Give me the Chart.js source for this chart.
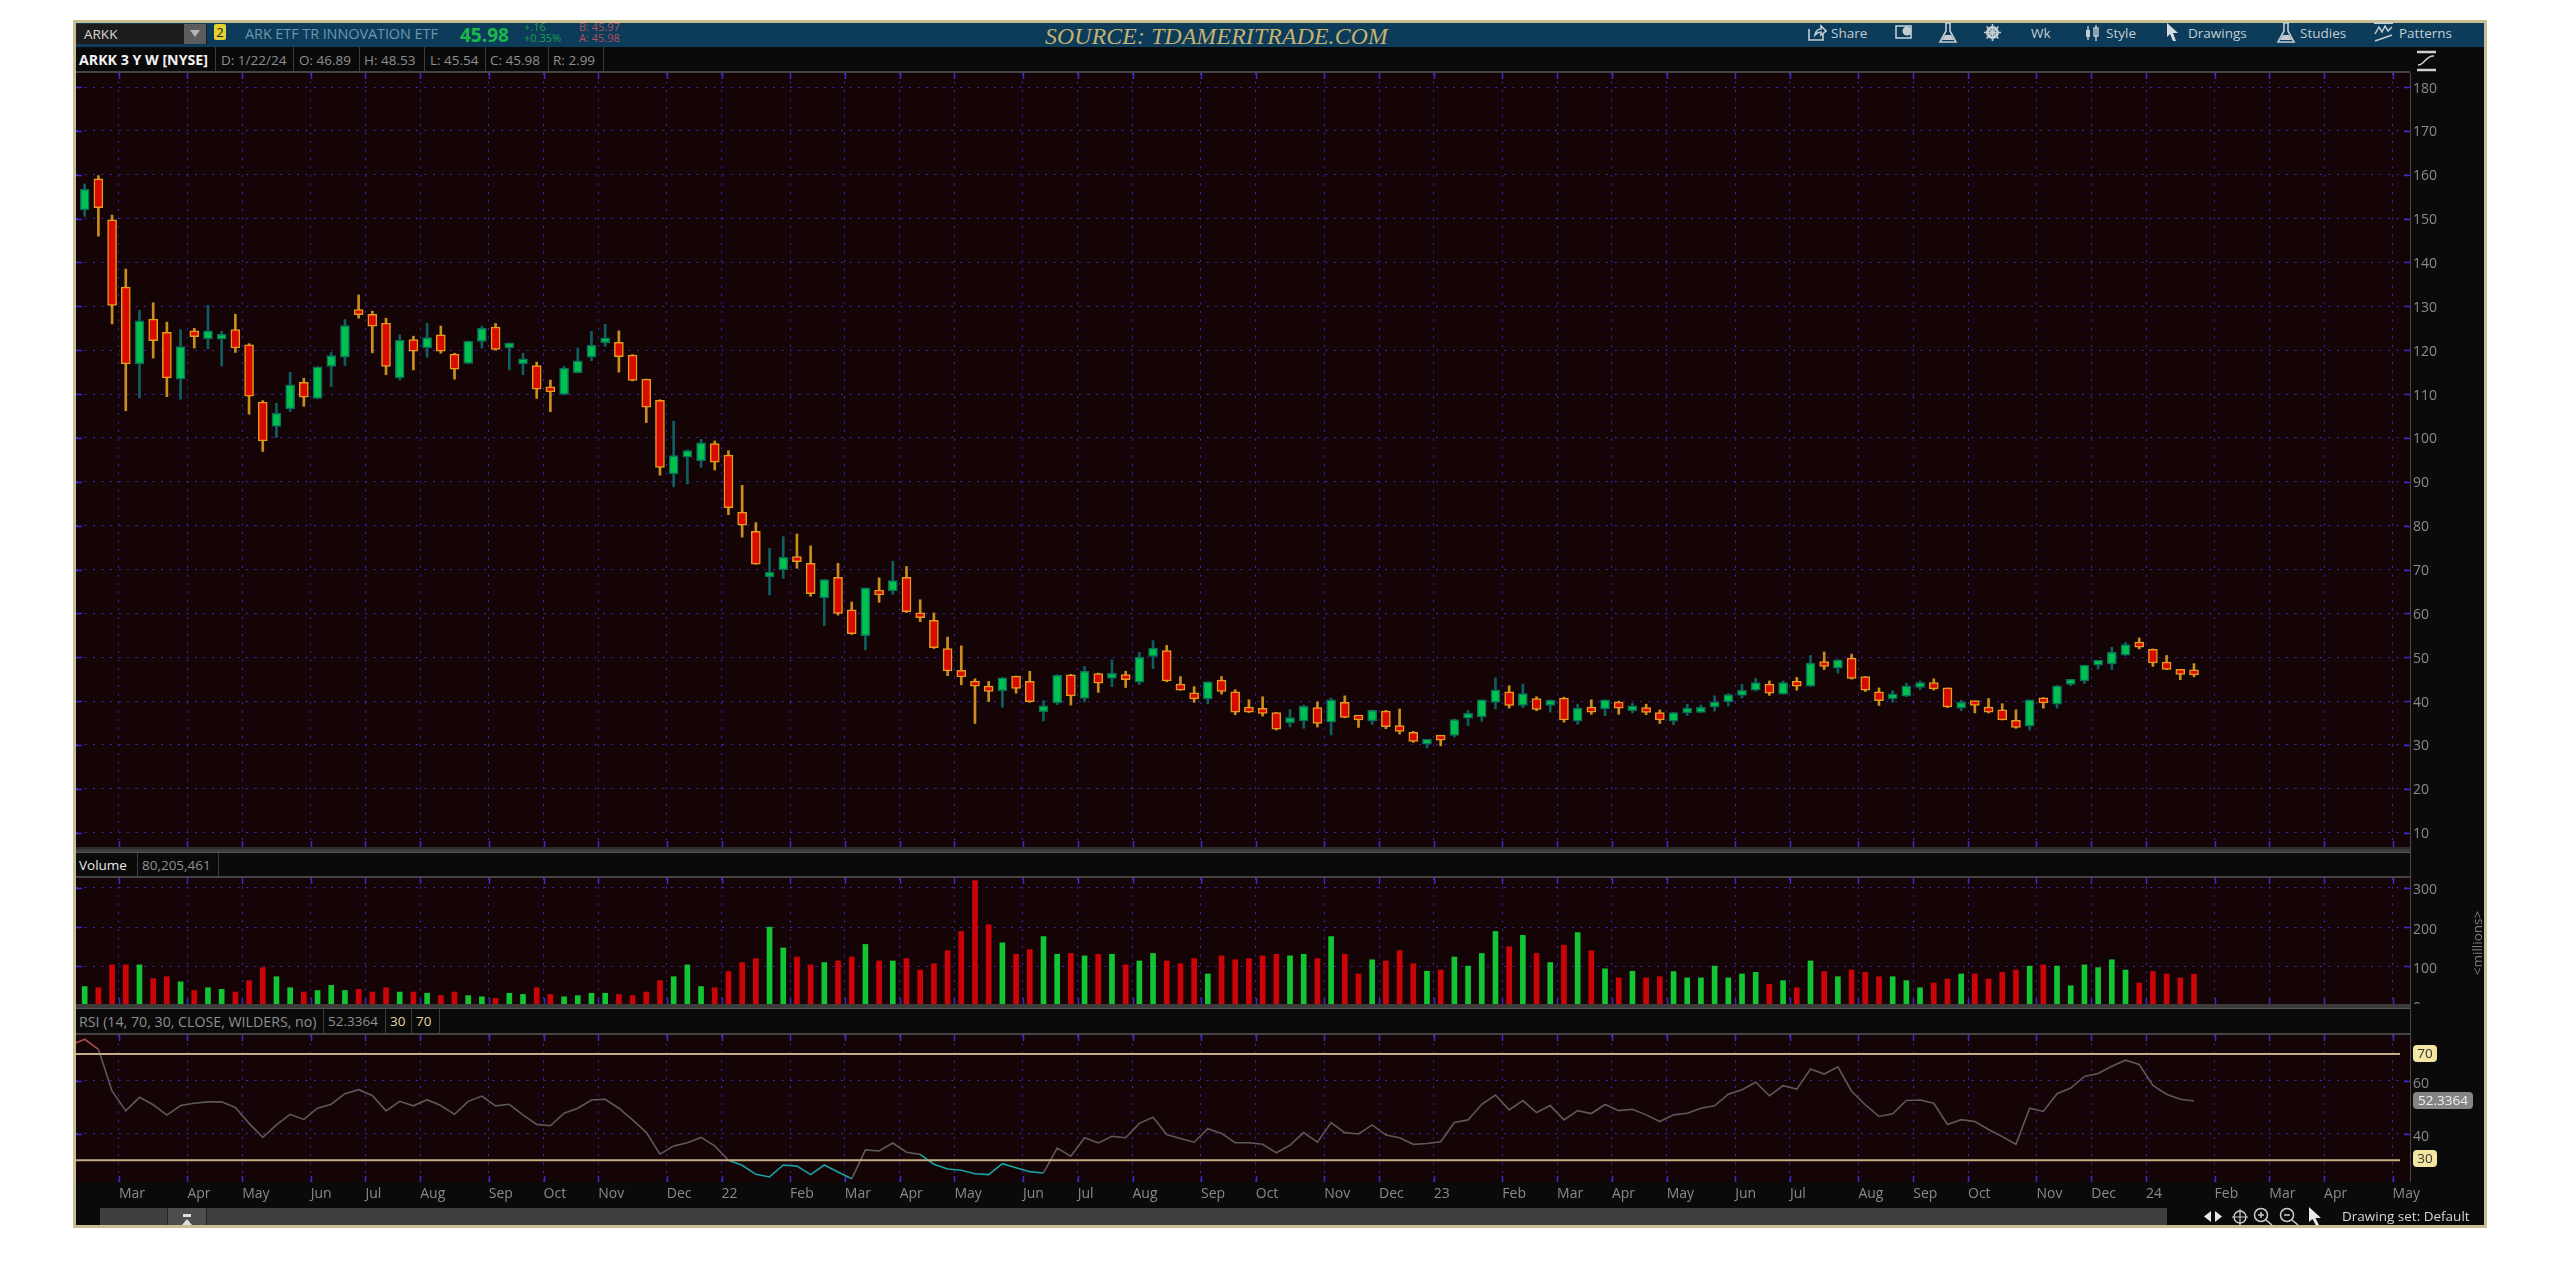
<!DOCTYPE html>
<html><head><meta charset="utf-8">
<script src="https://cdn.jsdelivr.net/npm/chart.js@4"></script>
<style>
html,body{margin:0;padding:0;background:#fff;width:2560px;height:1280px;overflow:hidden;font-family:"Open Sans",sans-serif}
body{filter:blur(.45px)}
.a{position:absolute;white-space:nowrap}
canvas{position:absolute;display:block}
.cell{position:absolute;top:0;font-size:13.5px;line-height:26px;color:#8f8f8f}
.sep{position:absolute;width:1px;background:#3d3d3d}
.tb{position:absolute;top:22px;height:24px;line-height:22px;font-size:13.5px;color:#c3ccd3;white-space:nowrap}
.tag{position:absolute;border-radius:4px;text-align:center;font-size:13.5px;line-height:17px}
svg{position:absolute}
</style></head><body>
<div class="a" style="left:73px;top:20px;width:2408px;height:1202px;border:3px solid #cbbd92;background:#0a0a0a"></div>
<!-- top toolbar -->
<div class="a" style="left:76px;top:23px;width:2408px;height:24px;background:#0c3c5a"></div>
<div class="a" style="left:76px;top:24px;width:131px;height:20px;background:#1c1c1c;color:#d8d8d8;font-size:13.5px;line-height:20px;text-indent:8px">ARKK</div>
<div class="a" style="left:184px;top:24px;width:22px;height:20px;background:#5c5c5c"></div>
<svg style="left:190px;top:30px" width="10" height="8"><path d="M0 0H10L5 7Z" fill="#b5b5b5"/></svg>
<div class="a" style="left:214px;top:24px;width:12px;height:16px;background:#e5d22e;color:#222;font-size:13px;line-height:16px;text-align:center;border-radius:2px">2</div>
<div class="a" style="left:245px;top:23px;color:#6c98ad;font-size:14.5px;line-height:22px;letter-spacing:-.1px">ARK ETF TR INNOVATION ETF</div>
<div class="a" style="left:460px;top:21px;color:#19b84b;font-size:19px;font-weight:700;line-height:28px">45.98</div>
<div class="a" style="left:524px;top:21px;color:#19a14a;font-size:11px;line-height:11px">+.16<br>+0.35%</div>
<div class="a" style="left:579px;top:21px;color:#b2515f;font-size:11px;line-height:11px">B: 45.97<br>A: 45.98</div>
<div class="a" style="left:1045px;top:20px;width:343px;text-align:center;color:#c7b270;font-family:'Liberation Serif',serif;font-style:italic;font-size:23.7px;line-height:32px;letter-spacing:.2px">SOURCE: TDAMERITRADE.COM</div>
<svg style="left:1807px;top:24px" width="20" height="18"><path d="M2 5V16H16V10M8 11C9 6 12 5 14 5V2L19 7L14 11V8C11 8 10 9 8 11Z" fill="none" stroke="#c3ccd3" stroke-width="1.6"/></svg>
<div class="tb" style="left:1831px">Share</div>
<svg style="left:1895px;top:24px" width="18" height="16"><rect x="1" y="2" width="15" height="12" fill="none" stroke="#c3ccd3" stroke-width="1.6"/><circle cx="12" cy="7" r="4.5" fill="#c3ccd3"/></svg>
<svg style="left:1938px;top:22px" width="20" height="22"><path d="M7 1H13M8 1V9L2 20H18L12 9V1" fill="none" stroke="#c3ccd3" stroke-width="1.6"/><path d="M4 18L7 13H13L16 18Z" fill="#c3ccd3"/></svg>
<svg style="left:1984px;top:24px" width="17" height="17"><circle cx="8.5" cy="8.5" r="5" fill="none" stroke="#c3ccd3" stroke-width="3"/><path d="M8.5 0V17M0 8.5H17M2.500 2.500L14.500 14.500M14.500 2.500L2.500 14.500" stroke="#c3ccd3" stroke-width="1.6"/></svg>
<div class="tb" style="left:2031px">Wk</div>
<svg style="left:2084px;top:24px" width="17" height="18"><path d="M4 2V16M12 1V17" stroke="#c3ccd3" stroke-width="1.4"/><rect x="2" y="6" width="4" height="7" fill="#c3ccd3"/><rect x="10" y="4" width="4" height="8" fill="none" stroke="#c3ccd3" stroke-width="1.4"/></svg>
<div class="tb" style="left:2106px">Style</div>
<svg style="left:2166px;top:23px" width="13" height="19"><path d="M1 0L12 10H7L10 18L7 18L4 11L1 14Z" fill="#d6dbe0"/></svg>
<div class="tb" style="left:2188px">Drawings</div>
<svg style="left:2276px;top:22px" width="20" height="22"><path d="M7 1H13M8 1V9L2 20H18L12 9V1" fill="none" stroke="#c3ccd3" stroke-width="1.6"/><path d="M4 18L7 13H13L16 18Z" fill="#c3ccd3"/></svg>
<div class="tb" style="left:2300px">Studies</div>
<svg style="left:2374px;top:21px" width="20" height="22"><path d="M0 2H19" stroke="#c3ccd3" stroke-width="2"/><path d="M1 13L5 6L8 11L11 5L14 10L18 6M1 20L18 14" fill="none" stroke="#c3ccd3" stroke-width="1.5"/></svg>
<div class="tb" style="left:2399px">Patterns</div>
<!-- info bar -->
<div class="a" style="left:76px;top:47px;width:2334px;height:26px;background:#0a0a0a;border-bottom:2px solid #444;box-sizing:border-box">
<div class="cell" style="left:3px;color:#f2f2f2;font-weight:700;font-size:14.2px">ARKK 3 Y W [NYSE]</div>
<div class="sep" style="left:139px;top:0;height:24px"></div><div class="cell" style="left:145px">D: 1/22/24</div>
<div class="sep" style="left:217px;top:0;height:24px"></div><div class="cell" style="left:223px">O: 46.89</div>
<div class="sep" style="left:283px;top:0;height:24px"></div><div class="cell" style="left:288px">H: 48.53</div>
<div class="sep" style="left:348px;top:0;height:24px"></div><div class="cell" style="left:354px">L: 45.54</div>
<div class="sep" style="left:409px;top:0;height:24px"></div><div class="cell" style="left:414px">C: 45.98</div>
<div class="sep" style="left:472px;top:0;height:24px"></div><div class="cell" style="left:477px">R: 2.99</div>
<div class="sep" style="left:527px;top:0;height:24px"></div>
</div>
<svg style="left:2416px;top:50px" width="22" height="22"><path d="M1 2H20M1 20H20" stroke="#cfcfcf" stroke-width="2.4"/><path d="M2 15C9 15 10 5 18 6" fill="none" stroke="#cfcfcf" stroke-width="1.5"/></svg>
<!-- panel dividers -->
<div class="a" style="left:76px;top:847px;width:2334px;height:6px;background:#3c3c3c;border-top:2px solid #2a2a2a;border-bottom:1px solid #555;box-sizing:border-box"></div>
<div class="a" style="left:76px;top:853px;width:2334px;height:25px;background:#0a0a0a;border-bottom:2px solid #444;box-sizing:border-box">
<div class="cell" style="left:3px;color:#e8e8e8;line-height:24px">Volume</div>
<div class="sep" style="left:61px;top:0;height:23px"></div>
<div class="cell" style="left:66px;line-height:24px">80,205,461</div>
<div class="sep" style="left:142px;top:0;height:23px"></div>
</div>
<div class="a" style="left:76px;top:1004px;width:2334px;height:5px;background:#3c3c3c;border-bottom:1px solid #555;box-sizing:border-box"></div>
<div class="a" style="left:76px;top:1009px;width:2334px;height:26px;background:#0a0a0a;border-bottom:2px solid #444;box-sizing:border-box">
<div class="cell" style="left:3px;line-height:25px;font-size:14.2px">RSI (14, 70, 30, CLOSE, WILDERS, no)</div>
<div class="sep" style="left:247px;top:0;height:24px"></div>
<div class="cell" style="left:252px;line-height:25px">52.3364</div>
<div class="sep" style="left:309px;top:0;height:24px"></div>
<div class="cell" style="left:314px;line-height:25px;color:#e3d6a0">30</div>
<div class="sep" style="left:335px;top:0;height:24px"></div>
<div class="cell" style="left:340px;line-height:25px;color:#e3d6a0">70</div>
<div class="sep" style="left:363px;top:0;height:24px"></div>
</div>
<canvas id="priceChart" style="left:76px;top:73px"></canvas>
<canvas id="volumeChart" style="left:76px;top:878px"></canvas>
<canvas id="rsiChart" style="left:76px;top:1035px"></canvas>
<div class="a" style="left:2410px;top:73px;width:1px;height:1109px;background:#4a4a4a"></div>
<div class="a" style="left:2440px;top:934px;width:74px;text-align:center;transform:rotate(-90deg);color:#7d7d7d;font-size:13.5px;line-height:18px">&lt;millions&gt;</div>
<div class="tag" style="left:2413px;top:1045px;width:24px;height:17px;background:#f4e5a3;color:#333">70</div>
<div class="tag" style="left:2413px;top:1150px;width:24px;height:17px;background:#f4e5a3;color:#333">30</div>
<div class="tag" style="left:2413px;top:1092px;width:60px;height:17px;background:#858585;color:#eee">52.3364</div>
<!-- scrollbar -->
<div class="a" style="left:100px;top:1208px;width:2067px;height:17px;background:#3f3f3f"></div>
<div class="a" style="left:167px;top:1208px;width:40px;height:17px;background:#4d4d4d;border-left:1px solid #222;border-right:1px solid #222;box-sizing:border-box"></div>
<svg style="left:181px;top:1214px" width="12" height="11"><rect x="2" y="0" width="8" height="3" fill="#ddd"/><path d="M6 5L11 11H1Z" fill="#ddd"/></svg>
<svg style="left:2203px;top:1209px" width="20" height="15"><path d="M8 2L1 7.5L8 13ZM12 2L19 7.5L12 13Z" fill="#e8e8e8"/></svg>
<svg style="left:2232px;top:1209px" width="16" height="16"><circle cx="8" cy="8" r="6" fill="none" stroke="#ccc" stroke-width="1.4"/><path d="M8 0V16M0 8H16" stroke="#ccc" stroke-width="1.2"/></svg>
<svg style="left:2253px;top:1207px" width="20" height="19"><circle cx="8" cy="8" r="6.5" fill="none" stroke="#ccc" stroke-width="1.5"/><path d="M13 13L19 18M5 8H11M8 5V11" stroke="#ccc" stroke-width="1.5"/></svg>
<svg style="left:2279px;top:1207px" width="20" height="19"><circle cx="8" cy="8" r="6.5" fill="none" stroke="#ccc" stroke-width="1.5"/><path d="M13 13L19 18M5 8H11" stroke="#ccc" stroke-width="1.5"/></svg>
<svg style="left:2308px;top:1207px" width="14" height="19"><path d="M1 0L13 11H7.500L11 18L8 18.500L4.500 12L1 15Z" fill="#e8e8e8"/></svg>
<div class="a" style="left:2342px;top:1207px;color:#d4d4d4;font-size:13.5px;line-height:19px">Drawing set: Default</div>
<script>
const open = [152.0,159.1,149.7,134.4,116.9,127.1,124.1,113.4,124.4,122.6,
122.5,124.7,121.2,108.2,102.6,106.6,112.7,109.0,116.3,118.4,
128.8,128.2,126.2,113.7,122.4,120.5,123.5,119.1,117.0,122.0,
125.3,120.5,116.9,116.5,110.7,109.9,114.9,118.4,121.7,121.8,
118.9,113.4,108.6,91.8,95.6,94.8,98.7,96.1,83.1,78.7,
68.3,69.9,72.5,71.4,63.5,68.2,60.8,54.9,65.2,65.1,
68.2,59.4,58.4,52.0,47.0,44.1,43.4,42.4,45.7,44.5,
37.6,39.6,46.0,40.6,46.3,45.2,45.9,44.3,50.2,51.5,
43.9,41.9,40.5,44.8,42.1,37.7,38.0,37.4,35.1,35.5,
38.5,35.2,39.7,36.1,35.5,37.7,34.4,32.9,30.2,31.7,
32.2,36.1,36.4,39.7,42.1,39.0,40.6,39.0,40.7,35.4,
38.5,38.2,39.8,37.8,38.3,37.4,35.4,37.3,37.4,38.7,
39.8,41.3,42.5,43.9,41.6,44.5,43.4,48.6,47.5,49.8,
45.6,42.1,40.5,41.1,43.1,44.2,43.0,38.4,39.7,38.3,
38.0,35.6,34.3,40.6,39.3,43.8,44.6,48.2,48.5,50.5,
53.3,51.8,48.9,46.9,46.89];
const high = [157.9,159.8,150.8,138.5,129.1,130.8,126.4,124.7,125.0,130.2,
124.3,128.2,121.5,108.5,107.9,115.0,113.6,116.2,119.5,127.0,
132.6,128.9,127.3,123.5,123.2,126.1,125.5,119.3,122.1,125.5,
126.1,121.7,119.3,117.3,113.2,116.3,120.5,124.3,125.9,124.4,
119.0,113.4,108.7,103.8,97.3,99.7,99.3,97.1,89.2,80.7,
74.8,77.5,78.1,75.4,67.8,71.4,62.6,65.8,68.1,71.9,
70.7,63.1,60.1,54.6,52.6,45.1,44.5,45.4,45.7,46.8,
40.1,46.0,46.1,47.9,46.4,49.4,46.8,51.1,53.8,52.7,
45.6,43.3,44.5,45.6,42.6,40.3,41.0,37.4,38.1,39.1,
39.8,40.7,41.2,36.2,38.0,37.9,38.2,33.1,31.1,31.8,
35.9,37.9,40.3,45.3,43.5,43.9,41.0,40.3,40.9,39.3,
40.3,40.3,40.0,39.5,39.3,38.0,37.4,39.3,39.1,41.2,
41.7,43.8,45.2,44.6,44.6,45.4,50.4,51.2,49.5,50.7,
45.6,43.0,42.4,44.1,44.6,45.1,43.0,40.2,39.8,40.6,
39.4,38.0,40.3,40.8,43.6,44.8,48.2,49.2,52.3,53.4,
54.4,51.9,50.4,47.1,48.53];
const low = [150.5,146.0,126.0,106.2,109.1,118.2,109.4,108.8,120.5,120.3,
116.4,119.5,105.4,96.9,100.1,106.0,107.2,108.9,111.7,116.5,
127.3,119.4,114.4,113.2,115.5,118.4,119.3,113.4,116.9,120.5,
120.0,115.5,114.4,109.0,106.0,109.8,114.8,117.6,120.9,115.0,
113.0,103.5,91.5,88.9,89.5,93.3,92.7,82.5,77.4,71.2,
64.2,68.0,70.3,63.9,57.2,59.6,55.2,51.7,62.5,64.3,
60.2,58.1,52.0,45.8,43.7,34.9,39.9,38.6,41.8,39.7,
35.5,39.2,39.1,39.8,42.0,43.3,43.1,43.8,47.4,44.4,
42.5,39.7,39.4,41.6,36.9,37.4,36.6,33.4,34.1,33.8,
34.1,32.3,36.2,34.0,34.7,33.7,32.5,30.6,29.3,29.8,
31.8,34.4,35.4,38.2,38.4,38.5,37.8,37.5,35.2,34.7,
37.0,36.7,37.0,37.3,36.9,34.9,34.6,36.7,37.4,37.7,
38.9,40.7,42.3,41.3,41.6,42.5,43.3,47.2,46.4,45.0,
42.2,39.0,39.7,41.0,42.6,42.5,38.5,37.8,37.3,37.3,
35.7,33.8,33.4,38.4,38.4,43.5,44.0,47.3,47.2,50.4,
51.9,47.9,47.2,44.9,45.54];
const close = [156.7,152.5,130.2,116.9,126.7,122.2,113.7,120.8,123.1,124.4,
123.5,120.5,109.5,99.3,105.6,112.1,109.3,116.2,118.8,125.6,
128.1,125.5,116.3,122.3,119.8,122.9,119.8,115.7,122.1,125.0,
120.2,121.5,117.2,111.1,110.5,115.9,117.6,121.1,122.4,118.5,
113.1,107.0,93.3,96.0,97.1,98.9,94.5,84.1,80.1,71.2,
68.7,72.8,71.8,64.5,67.7,60.0,55.4,65.8,64.2,67.5,
60.4,59.0,52.2,46.9,45.5,43.4,42.2,45.3,42.9,39.9,
38.9,45.9,41.2,46.8,44.1,46.2,44.9,50.0,52.1,44.6,
42.5,40.5,44.4,42.2,37.5,37.5,37.2,33.6,35.9,38.8,
34.9,40.3,36.3,35.7,37.9,34.2,33.1,30.8,31.1,31.1,
35.8,36.4,40.3,42.6,39.0,41.7,38.1,40.2,35.7,38.4,
37.5,40.3,38.4,38.9,37.4,35.7,37.4,37.7,38.6,39.2,
41.5,42.4,44.2,41.8,44.2,43.4,48.6,47.9,49.4,45.2,
42.5,40.1,41.0,43.5,43.6,42.8,38.7,39.7,39.0,37.5,
35.7,34.0,40.3,39.6,43.5,44.7,48.2,49.1,51.1,52.9,
52.3,48.7,47.2,46.1,45.98];
const volume = [49,46,104,104,104,69,74,61,39,46,42,35,64,97,74,46,35,39,52,39,
42,35,46,35,35,32,26,35,26,23,19,32,29,46,29,23,26,32,32,29,
26,35,64,74,104,49,46,87,110,120,200,147,124,104,110,114,124,156,114,114,
120,91,107,140,189,318,206,160,131,143,176,131,133,127,131,131,104,114,133,114,
107,120,81,127,117,120,127,131,127,131,120,176,131,81,117,114,140,107,88,91,
124,101,133,189,150,179,133,110,154,186,140,94,71,88,71,74,87,71,71,101,
71,81,85,55,64,46,114,87,74,91,85,74,74,64,46,58,68,81,81,68,
85,91,101,104,101,51,104,97,117,91,58,87,81,71,80.2];
const volumeDir = ["GRRRGRRGRG","GRRRGGRGGG","RRRGRGRRGG","RGGRRGGGGR","RRRGGGRRRR","GGRRGRRGRG","RRRRRRRGRR","GGRGRGRGGR","RRGRRRRRGG","RGRRGRRRGR","GGGGRGRGRG","RGRGRRGGGG","GGGRGRGRGR","RRGGGRRGRR","RRGRGGGGGG","RRRRR"].join('');
const rsi = [75.6,71.8,56,48.6,53.7,50.9,47,50.6,51.5,52,52,49.9,43.9,38.6,43.3,47.3,45.4,49.6,51.1,55.1,
56.6,54.4,48.6,52.2,50.5,52.8,50.6,47.3,52.2,54.2,50.5,51.1,47.1,43.5,43,47.7,49.6,52.7,53,49.6,
45.2,40.5,32.3,35.4,36.6,38.6,35.4,30,28.1,24.7,23.7,28.2,27.8,24.6,28.2,25.6,23,33.9,33.5,36.5,
33,32.2,28.5,26.7,26.2,24.9,24.6,28.7,27.2,25.7,25.2,34.6,31.5,38.5,36.5,39,38.5,43.9,46.2,39.7,
38.2,36.8,41.9,40.1,36.6,36.6,36,32.8,35.7,40.4,36.8,44.2,40.4,39.9,43.3,39.5,38.5,36,36.3,37,
44.2,45.2,51.1,54.6,49,52.5,48,50.6,45.2,48.7,47.6,51,48.7,49.2,47.1,44.6,47.1,47.7,49.6,50.5,
54.9,56.6,59.4,54.3,58.1,56.8,64.4,62.5,65.2,56,50.9,46.5,47.5,52.5,52.7,51.5,43.5,45.3,44.6,41.6,
38.9,36,49.6,48.4,55.1,57.2,61.6,62.7,65.4,67.7,66.1,58.2,54.9,53,52.3364];
const rsiLead = 73.5;
const rsiLevels = [70, 30];
const tickPos = [2.5,7.5,11.5,16.5,20.5,24.5,29.5,33.5,37.5,42.5,46.5,51.5,55.5,59.5,63.5,68.5,72.5,76.5,81.5,85.5,90.5,94.5,98.5,103.5,107.5,111.5,115.5,120.5,124.5,129.5,133.5,137.5,142.5,146.5,150.5,155.5,159.5,163.5,168.5];
const tickLabels = ["Mar","Apr","May","Jun","Jul","Aug","Sep","Oct","Nov","Dec","22","Feb","Mar","Apr","May","Jun","Jul","Aug","Sep","Oct","Nov","Dec","23","Feb","Mar","Apr","May","Jun","Jul","Aug","Sep","Oct","Nov","Dec","24","Feb","Mar","Apr","May"];
const priceTicks = [180,170,160,150,140,130,120,110,100,90,80,70,60,50,40,30,20,10];
const volumeTicks = [300,200,100,0];
const rsiTicks = [60,40];

const BG='#150406', GRID='#3d24c4', MARK='#3a2bd0', TXT='#8a8a8a';
const X_MIN=-0.635, X_MAX=169.77, AXIS_W=74, W=2408;
const dash=[2,6.5];
function noPad(s){s.paddingLeft=0;s.paddingRight=0;s.paddingTop=0;s.paddingBottom=0;}

const panelPlugin={id:'panel',
  beforeDraw(c){const a=c.chartArea,g=c.ctx;g.save();g.fillStyle=BG;g.fillRect(a.left,a.top,a.right-a.left,a.bottom-a.top);g.restore();},
  beforeDatasetsDraw(c){const a=c.chartArea,g=c.ctx;g.save();g.strokeStyle=MARK;g.lineWidth=1.5;g.beginPath();
    c.scales.x.ticks.forEach(t=>{const p=Math.round(c.scales.x.getPixelForValue(t.value))+.5;
      if(p>=a.left&&p<=a.right){g.moveTo(p,a.top);g.lineTo(p,a.top+6);g.moveTo(p,a.bottom-6);g.lineTo(p,a.bottom);}});
    c.scales.y.ticks.forEach(t=>{const p=Math.round(c.scales.y.getPixelForValue(t.value))+.5;
      if(p>=a.top&&p<=a.bottom){g.moveTo(a.left,p);g.lineTo(a.left+6,p);g.moveTo(a.right-6,p);g.lineTo(a.right,p);}});
    g.stroke();g.restore();}
};
function xAxis(showLabels,h){return {type:'linear',min:X_MIN,max:X_MAX,offset:false,
  afterBuildTicks(s){s.ticks=tickPos.map(v=>({value:v}));},
  afterFit(s){s.height=h;noPad(s);},
  grid:{color:GRID,lineWidth:1,drawTicks:false,offset:false},
  border:{display:false,dash:dash},
  ticks:{display:showLabels,autoSkip:false,maxRotation:0,minRotation:0,align:'start',padding:4,color:TXT,
    font:{family:'"Open Sans"',size:14},callback(v,i){return tickLabels[i];}}};}
function yAxis(min,max,list,labelShift){return {type:'linear',position:'right',min:min,max:max,
  afterBuildTicks(s){s.ticks=list.map(v=>({value:v}));},
  afterFit(s){s.width=AXIS_W;noPad(s);},
  grid:{color:GRID,lineWidth:1,drawTicks:false},
  border:{display:false,dash:dash},
  ticks:{padding:3,labelOffset:labelShift,color:TXT,font:{family:'"Open Sans"',size:14},callback(v){return String(v);}}};}
function baseOptions(x,y){return {responsive:false,animation:false,devicePixelRatio:1,events:[],
  layout:{padding:0},scales:{x:x,y:y},plugins:{legend:{display:false},tooltip:{enabled:false},title:{display:false}}};}
function sizeCanvas(id,h){const e=document.getElementById(id);e.width=W;e.height=h;e.style.width=W+'px';e.style.height=h+'px';return e;}

// Price panel
const idx=open.map((_,i)=>i);
const isUp=i=>close[i]>=open[i];
const wick=(up)=>idx.filter(i=>isUp(i)===up).map(i=>({x:i,y:[low[i],high[i]]}));
const body=(up)=>idx.filter(i=>isUp(i)===up).map(i=>({x:i,y:[open[i],close[i]]}));
const wickSet=(up,col)=>({type:'bar',data:wick(up),backgroundColor:col,borderWidth:0,barThickness:2,grouped:false,order:2});
const bodySet=(up,fill,edge)=>({type:'bar',data:body(up),backgroundColor:fill,borderColor:edge,borderWidth:1.5,borderSkipped:false,barThickness:9,minBarLength:5,grouped:false,order:1});
new Chart(sizeCanvas('priceChart',774),{type:'bar',plugins:[panelPlugin],
  data:{datasets:[wickSet(true,'#0d5f62'),wickSet(false,'#c98f1e'),bodySet(true,'#00c04f','#0a7058'),bodySet(false,'#d90a00','#e39a1d')]},
  options:baseOptions(xAxis(false,0),yAxis(6.74,183.2,priceTicks,1.5))});

// Volume panel
const volSet=(d,col)=>({type:'bar',data:idx.filter(i=>volumeDir[i]===d).map(i=>({x:i,y:volume[i]})),backgroundColor:col,borderWidth:0,barThickness:5,grouped:false});
new Chart(sizeCanvas('volumeChart',126),{type:'bar',plugins:[panelPlugin],
  data:{datasets:[volSet('G','#12c533'),volSet('R','#cc0408')]},
  options:baseOptions(xAxis(false,0),yAxis(4.7,324.7,volumeTicks,2.5))});

// RSI panel
const rsiColor=c=>{const a=c.p0.parsed.y,b=c.p1.parsed.y;
  if(a>70&&b>70)return '#a84a4c';
  if(b<30.5&&a<33)return '#1aa3a6';
  return '#5e5958';};
new Chart(sizeCanvas('rsiChart',173),{type:'line',plugins:[panelPlugin],
  data:{datasets:[
    ...rsiLevels.map(v=>({data:[{x:X_MIN,y:v},{x:169.04,y:v}],borderColor:'#c4ad85',borderWidth:2,pointRadius:0})),
    {data:[{x:-1,y:rsiLead},...rsi.map((v,i)=>({x:i,y:v}))],borderColor:'#5e5958',borderWidth:1.6,pointRadius:0,tension:0,segment:{borderColor:rsiColor}}
  ]},
  options:baseOptions(xAxis(true,26),yAxis(21.8,77.2,rsiTicks,3))});
</script>
</body></html>
